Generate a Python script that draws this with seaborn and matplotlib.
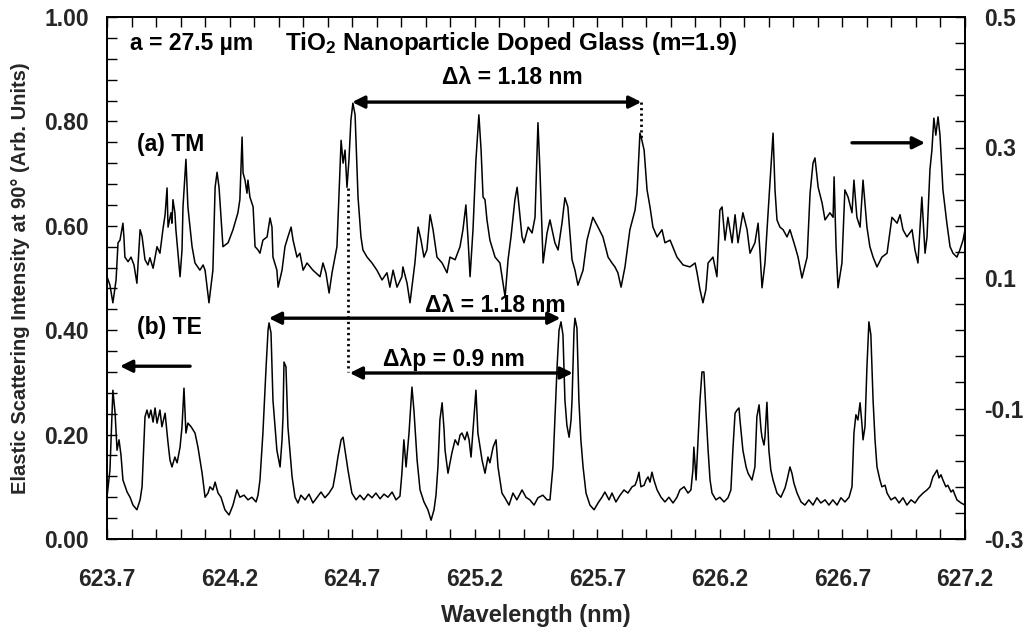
import numpy as np
import pandas as pd
import matplotlib
matplotlib.use("Agg")
import matplotlib.pyplot as plt
import seaborn as sns
from matplotlib.ticker import FixedLocator

# ---------------- data ----------------
# (a) TM spectrum -> right axis
tm_wavelength = [
    623.700, 623.712, 623.724, 623.737, 623.745, 623.753, 623.765, 623.769, 623.773, 623.786,
    623.798, 623.810, 623.822, 623.835, 623.843, 623.855, 623.867, 623.875, 623.888, 623.904,
    623.916, 623.928, 623.937, 623.945, 623.949, 623.961, 623.965, 623.969, 623.977, 623.981,
    623.998, 624.006, 624.010, 624.022, 624.030, 624.047, 624.059, 624.079, 624.092, 624.100,
    624.116, 624.132, 624.141, 624.149, 624.157, 624.173, 624.194, 624.214, 624.234, 624.242,
    624.251, 624.255, 624.263, 624.271, 624.275, 624.283, 624.296, 624.304, 624.316, 624.324,
    624.336, 624.353, 624.365, 624.373, 624.377, 624.393, 624.398, 624.414, 624.426, 624.438,
    624.451, 624.459, 624.475, 624.487, 624.500, 624.516, 624.540, 624.569, 624.581, 624.593,
    624.606, 624.618, 624.638, 624.646, 624.655, 624.663, 624.671, 624.679, 624.687, 624.695,
    624.703, 624.712, 624.724, 624.736, 624.744, 624.761, 624.781, 624.801, 624.822, 624.842,
    624.854, 624.867, 624.883, 624.903, 624.907, 624.924, 624.936, 624.956, 624.969, 624.981,
    624.993, 625.005, 625.018, 625.030, 625.046, 625.067, 625.087, 625.099, 625.120, 625.140,
    625.152, 625.164, 625.173, 625.181, 625.193, 625.205, 625.217, 625.226, 625.234, 625.242,
    625.250, 625.262, 625.283, 625.303, 625.324, 625.336, 625.348, 625.364, 625.373, 625.385,
    625.393, 625.401, 625.418, 625.434, 625.446, 625.458, 625.466, 625.479, 625.495, 625.507,
    625.527, 625.540, 625.556, 625.568, 625.580, 625.597, 625.609, 625.621, 625.642, 625.658,
    625.682, 625.703, 625.723, 625.744, 625.760, 625.772, 625.784, 625.797, 625.813, 625.833,
    625.854, 625.862, 625.874, 625.882, 625.891, 625.903, 625.915, 625.927, 625.944, 625.964,
    625.976, 625.997, 626.025, 626.050, 626.078, 626.099, 626.107, 626.119, 626.131, 626.143,
    626.152, 626.172, 626.188, 626.200, 626.209, 626.221, 626.233, 626.250, 626.262, 626.274,
    626.294, 626.311, 626.323, 626.343, 626.356, 626.364, 626.372, 626.384, 626.405, 626.417,
    626.425, 626.433, 626.445, 626.458, 626.474, 626.486, 626.507, 626.519, 626.535, 626.556,
    626.568, 626.580, 626.588, 626.601, 626.617, 626.629, 626.649, 626.662, 626.666, 626.674,
    626.682, 626.698, 626.710, 626.723, 626.739, 626.747, 626.759, 626.772, 626.784, 626.800,
    626.812, 626.825, 626.841, 626.861, 626.882, 626.902, 626.923, 626.935, 626.947, 626.963,
    626.984, 626.996, 627.008, 627.024, 627.037, 627.045, 627.057, 627.065, 627.073, 627.081,
    627.090, 627.098, 627.110, 627.126, 627.139, 627.151, 627.167, 627.179, 627.192, 627.200,
]
tm_intensity = [
    0.102, 0.089, 0.062, 0.097, 0.154, 0.158, 0.184, 0.163, 0.132, 0.125,
    0.132, 0.120, 0.092, 0.174, 0.164, 0.128, 0.120, 0.131, 0.115, 0.148,
    0.138, 0.174, 0.197, 0.238, 0.178, 0.200, 0.184, 0.220, 0.200, 0.174,
    0.102, 0.143, 0.209, 0.282, 0.209, 0.148, 0.123, 0.112, 0.120, 0.112,
    0.062, 0.112, 0.239, 0.262, 0.239, 0.148, 0.154, 0.174, 0.200, 0.220,
    0.316, 0.261, 0.250, 0.230, 0.250, 0.224, 0.209, 0.148, 0.143, 0.138,
    0.158, 0.163, 0.192, 0.178, 0.132, 0.112, 0.086, 0.112, 0.148, 0.163,
    0.178, 0.158, 0.132, 0.138, 0.112, 0.123, 0.112, 0.102, 0.123, 0.108,
    0.077, 0.108, 0.148, 0.224, 0.311, 0.276, 0.296, 0.239, 0.281, 0.342,
    0.368, 0.350, 0.224, 0.163, 0.143, 0.132, 0.123, 0.112, 0.097, 0.108,
    0.086, 0.112, 0.086, 0.102, 0.117, 0.092, 0.062, 0.123, 0.178, 0.158,
    0.132, 0.143, 0.197, 0.174, 0.132, 0.123, 0.108, 0.132, 0.128, 0.148,
    0.174, 0.212, 0.158, 0.102, 0.174, 0.281, 0.350, 0.296, 0.224, 0.220,
    0.189, 0.158, 0.132, 0.123, 0.071, 0.128, 0.163, 0.220, 0.239, 0.193,
    0.163, 0.154, 0.178, 0.169, 0.193, 0.338, 0.266, 0.123, 0.169, 0.189,
    0.154, 0.143, 0.184, 0.223, 0.209, 0.128, 0.112, 0.089, 0.112, 0.158,
    0.193, 0.178, 0.163, 0.132, 0.123, 0.117, 0.108, 0.086, 0.117, 0.174,
    0.204, 0.230, 0.322, 0.311, 0.296, 0.235, 0.209, 0.178, 0.163, 0.174,
    0.154, 0.158, 0.132, 0.120, 0.117, 0.123, 0.108, 0.082, 0.062, 0.082,
    0.123, 0.132, 0.102, 0.204, 0.209, 0.158, 0.193, 0.154, 0.197, 0.154,
    0.200, 0.174, 0.138, 0.154, 0.184, 0.138, 0.085, 0.123, 0.250, 0.322,
    0.235, 0.189, 0.178, 0.174, 0.163, 0.174, 0.148, 0.132, 0.100, 0.132,
    0.230, 0.276, 0.284, 0.239, 0.215, 0.189, 0.200, 0.193, 0.255, 0.148,
    0.085, 0.123, 0.235, 0.224, 0.200, 0.250, 0.193, 0.178, 0.250, 0.178,
    0.148, 0.132, 0.117, 0.132, 0.138, 0.193, 0.184, 0.197, 0.174, 0.163,
    0.174, 0.143, 0.123, 0.224, 0.138, 0.163, 0.266, 0.296, 0.345, 0.319,
    0.347, 0.319, 0.235, 0.184, 0.148, 0.138, 0.132, 0.143, 0.158, 0.174,
]

# (b) TE spectrum -> left axis
te_wavelength = [
    623.700, 623.712, 623.724, 623.733, 623.741, 623.749, 623.757, 623.765, 623.782, 623.794,
    623.806, 623.822, 623.835, 623.843, 623.855, 623.863, 623.871, 623.879, 623.888, 623.896,
    623.904, 623.916, 623.924, 623.937, 623.949, 623.957, 623.965, 623.977, 623.986, 623.998,
    624.006, 624.014, 624.022, 624.030, 624.043, 624.059, 624.071, 624.088, 624.100, 624.112,
    624.120, 624.132, 624.141, 624.153, 624.165, 624.181, 624.198, 624.214, 624.230, 624.242,
    624.259, 624.275, 624.291, 624.308, 624.316, 624.324, 624.336, 624.349, 624.357, 624.361,
    624.369, 624.377, 624.393, 624.406, 624.414, 624.418, 624.422, 624.430, 624.438, 624.455,
    624.467, 624.479, 624.491, 624.508, 624.524, 624.540, 624.557, 624.573, 624.589, 624.606,
    624.622, 624.634, 624.642, 624.655, 624.663, 624.671, 624.683, 624.699, 624.716, 624.732,
    624.748, 624.765, 624.781, 624.797, 624.814, 624.830, 624.846, 624.863, 624.879, 624.895,
    624.903, 624.911, 624.920, 624.932, 624.944, 624.952, 624.965, 624.977, 624.993, 625.009,
    625.022, 625.034, 625.042, 625.050, 625.058, 625.067, 625.075, 625.079, 625.091, 625.099,
    625.107, 625.120, 625.132, 625.140, 625.148, 625.160, 625.169, 625.177, 625.185, 625.193,
    625.205, 625.213, 625.230, 625.242, 625.254, 625.262, 625.275, 625.287, 625.295, 625.311,
    625.323, 625.340, 625.356, 625.372, 625.393, 625.409, 625.425, 625.442, 625.458, 625.478,
    625.495, 625.507, 625.519, 625.527, 625.536, 625.544, 625.552, 625.560, 625.568, 625.576,
    625.585, 625.593, 625.597, 625.605, 625.609, 625.617, 625.625, 625.633, 625.642, 625.654,
    625.670, 625.687, 625.703, 625.719, 625.731, 625.748, 625.760, 625.776, 625.793, 625.809,
    625.825, 625.842, 625.854, 625.862, 625.870, 625.878, 625.891, 625.899, 625.907, 625.915,
    625.923, 625.931, 625.944, 625.960, 625.976, 625.992, 626.009, 626.025, 626.037, 626.054,
    626.070, 626.082, 626.090, 626.094, 626.103, 626.111, 626.119, 626.127, 626.135, 626.143,
    626.152, 626.160, 626.168, 626.184, 626.200, 626.217, 626.233, 626.245, 626.253, 626.262,
    626.270, 626.278, 626.282, 626.294, 626.307, 626.315, 626.331, 626.343, 626.351, 626.360,
    626.368, 626.372, 626.380, 626.384, 626.392, 626.400, 626.408, 626.417, 626.433, 626.449,
    626.466, 626.474, 626.486, 626.494, 626.502, 626.515, 626.531, 626.547, 626.563, 626.580,
    626.596, 626.612, 626.629, 626.645, 626.661, 626.678, 626.694, 626.710, 626.727, 626.739,
    626.747, 626.755, 626.763, 626.772, 626.780, 626.784, 626.792, 626.800, 626.808, 626.816,
    626.825, 626.833, 626.841, 626.853, 626.861, 626.874, 626.882, 626.898, 626.915, 626.931,
    626.947, 626.963, 626.980, 626.996, 627.012, 627.029, 627.045, 627.057, 627.069, 627.086,
    627.094, 627.102, 627.110, 627.122, 627.130, 627.143, 627.151, 627.167, 627.184, 627.200,
]
te_intensity = [
    0.080, 0.132, 0.285, 0.241, 0.170, 0.190, 0.161, 0.113, 0.090, 0.080,
    0.065, 0.056, 0.075, 0.100, 0.234, 0.247, 0.232, 0.247, 0.224, 0.251,
    0.222, 0.247, 0.215, 0.241, 0.184, 0.151, 0.138, 0.157, 0.146, 0.176,
    0.215, 0.289, 0.203, 0.222, 0.215, 0.203, 0.176, 0.126, 0.080, 0.088,
    0.100, 0.094, 0.109, 0.088, 0.080, 0.056, 0.046, 0.065, 0.094, 0.080,
    0.084, 0.075, 0.080, 0.071, 0.084, 0.113, 0.203, 0.330, 0.400, 0.414,
    0.395, 0.266, 0.170, 0.138, 0.190, 0.234, 0.339, 0.330, 0.215, 0.119,
    0.080, 0.069, 0.084, 0.075, 0.086, 0.069, 0.080, 0.090, 0.079, 0.088,
    0.100, 0.132, 0.157, 0.190, 0.195, 0.170, 0.132, 0.088, 0.075, 0.084,
    0.075, 0.086, 0.079, 0.088, 0.077, 0.086, 0.080, 0.090, 0.075, 0.082,
    0.126, 0.190, 0.138, 0.203, 0.291, 0.247, 0.151, 0.094, 0.071, 0.056,
    0.036, 0.056, 0.084, 0.138, 0.228, 0.261, 0.209, 0.170, 0.126, 0.146,
    0.165, 0.190, 0.180, 0.199, 0.203, 0.190, 0.205, 0.190, 0.157, 0.209,
    0.285, 0.203, 0.151, 0.126, 0.157, 0.146, 0.176, 0.190, 0.138, 0.088,
    0.079, 0.065, 0.088, 0.075, 0.094, 0.080, 0.075, 0.065, 0.079, 0.084,
    0.075, 0.075, 0.138, 0.228, 0.330, 0.400, 0.416, 0.391, 0.266, 0.218,
    0.195, 0.228, 0.266, 0.400, 0.423, 0.404, 0.266, 0.190, 0.138, 0.088,
    0.065, 0.056, 0.069, 0.080, 0.090, 0.075, 0.088, 0.071, 0.084, 0.094,
    0.088, 0.100, 0.103, 0.113, 0.128, 0.100, 0.103, 0.113, 0.119, 0.109,
    0.128, 0.113, 0.094, 0.080, 0.071, 0.080, 0.069, 0.080, 0.094, 0.100,
    0.088, 0.094, 0.132, 0.176, 0.113, 0.190, 0.266, 0.320, 0.320, 0.247,
    0.170, 0.113, 0.088, 0.075, 0.080, 0.071, 0.079, 0.094, 0.170, 0.241,
    0.247, 0.251, 0.228, 0.170, 0.138, 0.126, 0.113, 0.138, 0.234, 0.257,
    0.209, 0.195, 0.180, 0.195, 0.262, 0.170, 0.132, 0.113, 0.088, 0.080,
    0.098, 0.113, 0.138, 0.126, 0.107, 0.088, 0.071, 0.065, 0.075, 0.065,
    0.079, 0.069, 0.075, 0.065, 0.075, 0.065, 0.079, 0.071, 0.080, 0.100,
    0.203, 0.238, 0.228, 0.261, 0.218, 0.190, 0.215, 0.330, 0.416, 0.391,
    0.266, 0.190, 0.138, 0.113, 0.100, 0.103, 0.088, 0.075, 0.080, 0.069,
    0.079, 0.065, 0.075, 0.069, 0.080, 0.088, 0.094, 0.100, 0.119, 0.132,
    0.117, 0.123, 0.113, 0.100, 0.103, 0.090, 0.094, 0.075, 0.069, 0.065,
]

x_ticks = [623.7, 624.2, 624.7, 625.2, 625.7, 626.2, 626.7, 627.2]
x_ticklabels = ["623.7", "624.2", "624.7", "625.2", "625.7", "626.2", "626.7", "627.2"]
left_ticks = [0.0, 0.2, 0.4, 0.6, 0.8, 1.0]
left_ticklabels = ["0.00", "0.20", "0.40", "0.60", "0.80", "1.00"]
right_ticks = [-0.3, -0.1, 0.1, 0.3, 0.5]
right_ticklabels = ["-0.3", "-0.1", "0.1", "0.3", "0.5"]

# annotation anchors (wavelength, left-axis value)
fsr_tm = (624.70, 625.88, 0.837)      # top  Δλ arrow
fsr_te = (624.36, 625.55, 0.423)      # lower Δλ arrow
fsr_p = (624.69, 625.60, 0.318)       # Δλp arrow

# ---------------- style ----------------
sns.set_theme(style="ticks")
plt.rcParams['font.family'] = ['Liberation Sans', 'DejaVu Sans']
plt.rcParams['font.weight'] = 'bold'
plt.rcParams['mathtext.fontset'] = 'custom'
plt.rcParams['mathtext.rm'] = 'Liberation Sans:bold'
plt.rcParams['mathtext.bf'] = 'Liberation Sans:bold'
plt.rcParams['mathtext.it'] = 'Liberation Sans:bold'

fig = plt.figure(figsize=(10.29, 6.37), dpi=100)
ax = fig.add_axes([107 / 1029, 98 / 637, 858 / 1029, 522 / 637])
ax2 = ax.twinx()

sns.lineplot(x=te_wavelength, y=te_intensity, ax=ax, color="black", lw=1.1,
             estimator=None, sort=False)
sns.lineplot(x=tm_wavelength, y=tm_intensity, ax=ax2, color="black", lw=1.1,
             estimator=None, sort=False)

ax.set_xlim(623.7, 627.2)
ax.set_ylim(0.0, 1.0)
ax2.set_ylim(-0.3, 0.5)

ax.xaxis.set_major_locator(FixedLocator(x_ticks))
ax.xaxis.set_minor_locator(FixedLocator(list(np.round(np.arange(623.7, 627.21, 0.1), 2))))
ax.set_xticklabels(x_ticklabels)
ax.yaxis.set_major_locator(FixedLocator(left_ticks))
ax.yaxis.set_minor_locator(FixedLocator(list(np.round(np.arange(0, 1.001, 0.04), 2))))
ax.set_yticklabels(left_ticklabels)
ax2.yaxis.set_major_locator(FixedLocator(right_ticks))
ax2.yaxis.set_minor_locator(FixedLocator(list(np.round(np.arange(-0.3, 0.501, 0.04), 2))))
ax2.set_yticklabels(right_ticklabels)

tick_font = 16.5
ax.tick_params(axis="x", which="both", direction="in", top=True, bottom=True,
               length=7, width=1, color="black", labelsize=tick_font, pad=21)
ax.tick_params(axis="y", which="both", direction="in", left=True, right=False,
               length=7, width=1, color="black", labelsize=tick_font, pad=13)
ax2.tick_params(axis="y", which="both", direction="in", right=True, left=False,
                length=7, width=1, color="black", labelsize=tick_font, pad=14)
for t in ax.get_xticklabels() + ax.get_yticklabels() + ax2.get_yticklabels():
    t.set_fontweight("bold")

for a in (ax, ax2):
    for s in a.spines.values():
        s.set_color("black")
        s.set_linewidth(1.3)
ax2.set_ylabel("")
ax.set_xlabel("Wavelength (nm)", fontsize=17, fontweight="bold", labelpad=9)
ax.set_ylabel("Elastic Scattering Intensity at 90° (Arb. Units)", fontsize=14.5,
              fontweight="bold", labelpad=10)

# ---------------- annotations ----------------
txt = dict(fontsize=16.5, fontweight="bold", color="black", va="center", ha="left")
ax.text(623.794, 0.950, "a = 27.5 µm", **txt)
ax.text(624.426, 0.950, r"TiO$_{\mathbf{2}}$ Nanoparticle Doped Glass (m=1.9)",
        **dict(txt, fontsize=17.5))
ax.text(625.067, 0.885, "Δλ = 1.18 nm", **txt)
ax.text(623.822, 0.755, "(a) TM", **txt)
ax.text(624.997, 0.448, "Δλ = 1.18 nm", **txt)
ax.text(623.822, 0.406, "(b) TE", **txt)
ax.text(624.826, 0.343, "Δλp = 0.9 nm", **txt)

arrow2 = dict(arrowstyle="<|-|>", color="black", lw=2.4, mutation_scale=18,
              shrinkA=0, shrinkB=0)
arrow1 = dict(arrowstyle="-|>", color="black", lw=2.4, mutation_scale=18,
              shrinkA=0, shrinkB=0)
for x0, x1, yv in (fsr_tm, fsr_te, fsr_p):
    ax.annotate("", xy=(x0, yv), xytext=(x1, yv), arrowprops=arrow2)
ax.annotate("", xy=(623.753, 0.331), xytext=(624.039, 0.331), arrowprops=arrow1)
ax.annotate("", xy=(627.037, 0.759), xytext=(626.739, 0.759), arrowprops=arrow1)

dot = dict(color="black", lw=2.0, linestyle=(0, (0.8, 1.2)))
ax.plot([625.88, 625.88], [0.837, 0.765], **dot)
ax.plot([624.683, 624.683], [0.672, 0.320], **dot)

fig.savefig("out.png", dpi=100)
